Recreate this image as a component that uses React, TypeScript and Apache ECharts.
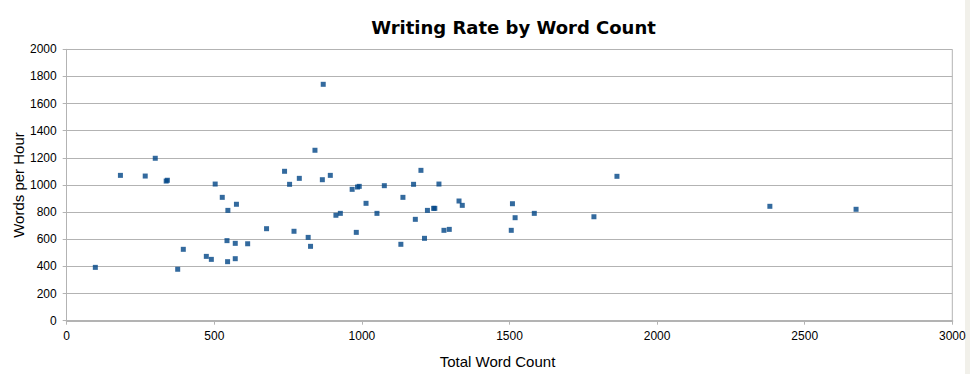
import React, { useEffect, useRef } from "react";
import * as echarts from "echarts";

const title = "Writing Rate by Word Count";
const xAxisName = "Total Word Count";
const yAxisName = "Words per Hour";

const wordCounts = [
  97, 182, 266, 300, 337, 341, 376, 395, 473, 490, 503, 527, 546, 575, 543, 545,
  571, 571, 613, 677, 738, 755, 788, 770, 818, 826, 841, 869, 866, 893, 912, 927,
  967, 985, 991, 981, 1014, 1051, 1076, 1139, 1132, 1175, 1181, 1200, 1212, 1222,
  1243, 1247, 1261, 1278, 1296, 1329, 1340, 1510, 1506, 1519, 1584, 1786, 1864,
  2382, 2674,
];
const wordsPerHour = [
  393, 1071, 1066, 1197, 1029, 1035, 379, 526, 474, 452, 1007, 909, 813, 858, 590, 435,
  570, 457, 567, 678, 1101, 1005, 1049, 659, 614, 548, 1256, 1742, 1039, 1071, 777, 791,
  968, 985, 990, 651, 865, 791, 995, 909, 563, 1005, 747, 1108, 607, 813,
  828, 828, 1007, 666, 673, 882, 850, 862, 666, 759, 791, 766, 1064,
  843, 821,
];

export default function App() {
  const ref = useRef<HTMLDivElement>(null);
  useEffect(() => {
    document.body.style.margin = "0";
    const chart = echarts.init(ref.current!, null, { renderer: "svg" });
    const data = wordCounts.map((x, i) => [x, wordsPerHour[i]]);
    const gridColor = "#b3b3b3";
    const plain = (v: number) => String(v);
    chart.setOption({
      animation: false,
      backgroundColor: "#ffffff",
      grid: { left: 66.7, right: 17.7, top: 49.3, bottom: 53.3, show: false },
      title: {
        text: title,
        left: 508.5,
        textAlign: "center",
        top: 13,
        textStyle: {
          fontFamily: "DejaVu Sans",
          fontWeight: "bold",
          fontSize: 18,
          color: "#000000",
        },
      },
      xAxis: {
        type: "value",
        min: 0,
        max: 3000,
        interval: 500,
        axisLine: { show: true, lineStyle: { color: gridColor, width: 2 } },
        axisTick: { show: true, length: 4, lineStyle: { color: gridColor } },
        splitLine: { show: false },
        axisLabel: {
          margin: 9,
          formatter: plain,
          fontFamily: "Liberation Sans",
          fontSize: 12,
          color: "#000000",
        },
      },
      yAxis: {
        type: "value",
        min: 0,
        max: 2000,
        interval: 200,
        axisLine: { show: true, onZero: false, lineStyle: { color: gridColor, width: 1 } },
        axisTick: { show: true, length: 4, lineStyle: { color: gridColor } },
        splitLine: { show: true, lineStyle: { color: gridColor, width: 1 } },
        axisLabel: {
          margin: 10,
          formatter: plain,
          fontFamily: "Liberation Sans",
          fontSize: 12,
          color: "#000000",
        },
      },
      graphic: [
        {
          type: "line",
          shape: { x1: 952.3, y1: 49.3, x2: 952.3, y2: 320.7 },
          style: { stroke: gridColor, lineWidth: 1 },
          silent: true,
        },
        {
          type: "text",
          x: 497.5,
          y: 361,
          style: {
            text: xAxisName,
            fontFamily: "Liberation Sans",
            fontSize: 15,
            fill: "#000000",
            textAlign: "center",
            textVerticalAlign: "middle",
          },
        },
        {
          type: "text",
          x: 18,
          y: 185,
          rotation: Math.PI / 2,
          style: {
            text: yAxisName,
            fontFamily: "Liberation Sans",
            fontSize: 15,
            fill: "#000000",
            textAlign: "center",
            textVerticalAlign: "middle",
          },
        },
        {
          type: "rect",
          shape: { x: 965, y: 0, width: 5, height: 374 },
          style: { fill: "#f1f0ea" },
          silent: true,
        },
      ],
      series: [
        {
          type: "scatter",
          data,
          symbol: "rect",
          symbolSize: 5,
          itemStyle: { color: "#004586" },
        },
      ],
    });
    return () => chart.dispose();
  }, []);
  return (
    <div
      ref={ref}
      style={{ position: "absolute", left: 0, top: 0, width: 970, height: 374 }}
    />
  );
}
